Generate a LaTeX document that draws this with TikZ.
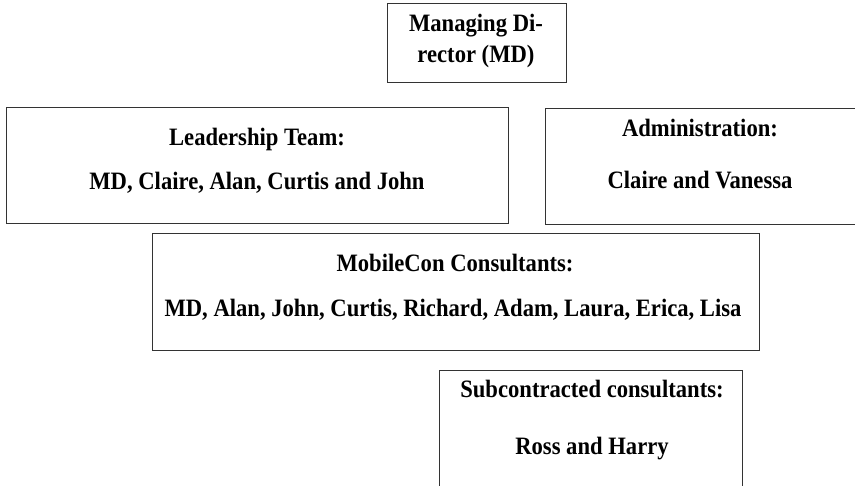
\documentclass[tikz,border=0pt]{standalone}
\usepackage{fontspec}
\setmainfont[FakeStretch=0.905]{Liberation Serif}
\begin{document}
\begin{tikzpicture}[x=1pt,y=-1pt,
  box/.style={draw=black!80, line width=1.1pt, inner sep=0pt, anchor=north west},
  lbl/.style={font=\fontsize{25}{27}\selectfont\bfseries, inner sep=0pt, anchor=base}]
\useasboundingbox (0,0) rectangle (855,486);
% boxes: top-left corner, width, height
\node[box, minimum width=179pt, minimum height=79pt] (md) at (387,3) {};
\node[box, minimum width=502pt, minimum height=116pt] (lead) at (6,107) {};
\node[box, minimum width=310pt, minimum height=116pt] (admin) at (545,108) {};
\node[box, minimum width=607pt, minimum height=117pt] (cons) at (152,233) {};
\node[box, minimum width=303pt, minimum height=120pt] (sub) at (439,370) {};
% labels
\node[lbl] (mdA) at (476,32) {Managing Di-};
\node[lbl] (mdB) at (476,63) {rector (MD)};
\node[lbl] (leadA) at (257,146) {Leadership Team:};
\node[lbl] (leadB) at (257,190) {MD, Claire, Alan, Curtis and John};
\node[lbl] (adminA) at (700,137) {Administration:};
\node[lbl] (adminB) at (700,189) {Claire and Vanessa};
\node[lbl] (consA) at (455,272) {MobileCon Consultants:};
\node[lbl] (consB) at (453,317) {MD, Alan, John, Curtis, Richard, Adam, Laura, Erica, Lisa};
\node[lbl] (subA) at (592,398) {Subcontracted consultants:};
\node[lbl] (subB) at (592,455) {Ross and Harry};
\end{tikzpicture}
\end{document}
